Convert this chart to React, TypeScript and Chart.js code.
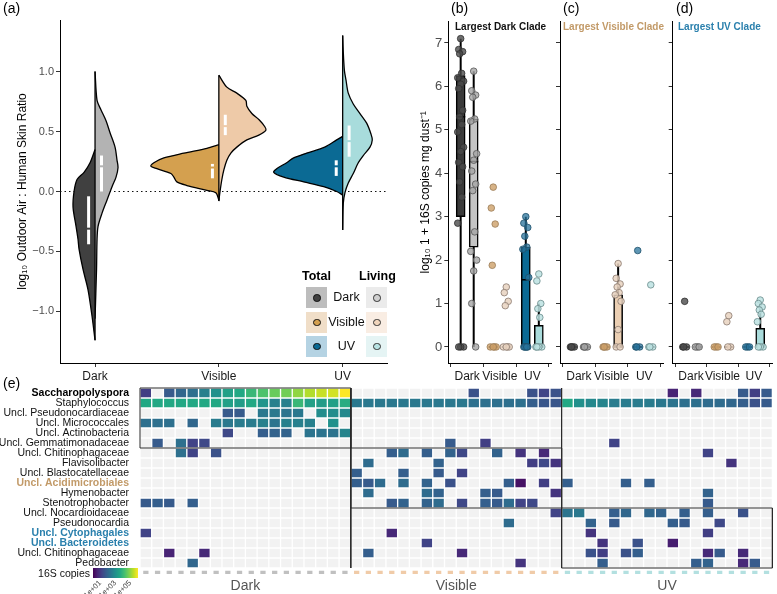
import React, { useEffect, useRef } from "react";
import { Chart, registerables } from "chart.js";
Chart.register(...registerables);

const FONT = "'Liberation Sans', Arial, Helvetica, sans-serif";
Chart.defaults.font.family = FONT;

const _ = null;
const CATEGORIES = ["Dark", "Visible", "UV"];

// ---------- Panel (a): split violins (levels in log10 ratio, widths = read half-widths) ----------
const DARK_TOTAL_LEVELS = [0.35, 0.24, 0.16, 0.10, 0.0, -0.13, -0.29, -0.40, -0.48, -0.65, -0.82, -1.04, -1.24];
const DARK_TOTAL_WIDTHS = [0, 5, 11, 18, 21, 22, 19, 17, 16, 12, 7, 3, 0];
const DARK_LIVING_LEVELS = [1.0, 0.76, 0.68, 0.59, 0.49, 0.37, 0.26, 0.2, 0.12, 0.04, -0.07, -0.18, -0.29, -0.4, -0.65, -1.06];
const DARK_LIVING_WIDTHS = [0, 2, 6, 11, 15, 20, 22, 23, 21, 17, 12, 7, 3, 2, 1.5, 0];
const VISIBLE_TOTAL_LEVELS = [0.39, 0.36, 0.32, 0.28, 0.24, 0.21, 0.19, 0.15, 0.12, 0.08, 0.05, 0.01, -0.01, -0.07];
const VISIBLE_TOTAL_WIDTHS = [0, 12, 35, 55, 65, 68, 62, 48, 45, 42, 32, 12, 3, 0];
const VISIBLE_LIVING_LEVELS = [0.97, 0.87, 0.82, 0.76, 0.71, 0.65, 0.6, 0.54, 0.51, 0.47, 0.43, 0.37, 0.32, 0.26, 0.18, 0.1, -0.01, -0.08];
const VISIBLE_LIVING_WIDTHS = [0, 8, 18, 27, 28, 33, 40, 46, 47, 40, 28, 18, 12, 8, 5, 3, 1, 0];
const UV_TOTAL_LEVELS = [0.46, 0.43, 0.37, 0.32, 0.28, 0.24, 0.19, 0.16, 0.12, 0.08, 0.04, 0.0, -0.03];
const UV_TOTAL_WIDTHS = [0, 6, 18, 36, 49, 56, 66, 69, 59, 39, 19, 6, 0];
const UV_LIVING_LEVELS = [1.3, 1.18, 1.01, 0.93, 0.82, 0.73, 0.65, 0.57, 0.48, 0.43, 0.37, 0.3, 0.24, 0.15, 0.07, -0.01, -0.1, -0.32];
const UV_LIVING_WIDTHS = [0, 0.5, 1.7, 3.3, 5.6, 10.6, 17.3, 24, 28.3, 29.6, 27.3, 20.6, 15.6, 10.6, 5.6, 2.3, 0.6, 0];
// [q1, median, q3]
const IQR_TOTAL = [[-0.44, -0.31, -0.04], [0.11, 0.2, 0.23], [0.13, 0.21, 0.26]];
const IQR_LIVING = [[0.0, 0.21, 0.3], [0.47, 0.545, 0.64], [0.29, 0.42, 0.55]];
const A_Y_TICKS = [-1, -0.5, 0, 0.5, 1];

const TOTAL_COLORS = ["#404040", "#d4a04f", "#0b6a94"];
const LIVING_COLORS = ["#b3b3b3", "#eecaa8", "#a8dcdc"];

// ---------- Panels (b)-(d): log10 1 + 16S copies ----------
const B_DARK_TOTAL = [7.1, 6.85, 6.8, 6.75, 6.3, 6.2, 6.12, 6.05, 5.95, 5.45, 5.3, 5.12, 4.95, 4.6, 4.5, 4.25, 4.15, 3.8, 3.45, 2.85, 0, 0, 0];
const B_DARK_LIVING = [6.35, 5.9, 5.8, 5.75, 5.25, 5.2, 4.45, 4.3, 4.05, 3.75, 3.6, 2.65, 2.2, 2.0, 1.75, 1.0, 0];
const B_VISIBLE_TOTAL = [3.68, 3.2, 2.83, 1.88, 0, 0, 0, 0];
const B_VISIBLE_LIVING = [1.38, 1.25, 1.05, 0.95, 0, 0, 0, 0];
const B_UV_TOTAL = [3.0, 2.85, 2.75, 2.55, 2.3, 2.25, 1.6, 0, 0, 0, 0, 0];
const B_UV_LIVING = [1.68, 1.52, 1.0, 0.88, 0.68, 0, 0, 0, 0];
const C_DARK_TOTAL = [0, 0, 0, 0];
const C_DARK_LIVING = [0, 0, 0, 0];
const C_VISIBLE_TOTAL = [0, 0, 0, 0];
const C_VISIBLE_LIVING = [1.92, 1.58, 1.45, 1.38, 1.25, 1.2, 1.05, 0.4, 0, 0];
const C_UV_TOTAL = [2.22, 0, 0, 0];
const C_UV_LIVING = [1.43, 0, 0, 0];
const D_DARK_TOTAL = [1.05, 0, 0, 0];
const D_DARK_LIVING = [0, 0, 0];
const D_VISIBLE_TOTAL = [0, 0, 0];
const D_VISIBLE_LIVING = [0.72, 0.58, 0, 0];
const D_UV_TOTAL = [0, 0, 0];
const D_UV_LIVING = [1.08, 1.0, 0.92, 0.85, 0.75, 0.58, 0, 0, 0];
// [low whisker, q1, median, q3, high whisker]
const BOX_B = [[0, 3.0, 5.3, 6.25, 7.1], [0, 2.3, 4.27, 5.25, 6.35], [0, 0, 0, 0, 0], [0, 0, 0, 0, 0], [0, 0, 1.55, 2.3, 3.0], [0, 0, 0, 0.5, 1.0]];
const BOX_C = [[0, 0, 0, 0, 0], [0, 0, 0, 0, 0], [0, 0, 0, 0, 0], [0, 0, 0, 1.2, 1.92], [0, 0, 0, 0, 0], [0, 0, 0, 0, 0]];
const BOX_D = [[0, 0, 0, 0, 0], [0, 0, 0, 0, 0], [0, 0, 0, 0, 0], [0, 0, 0, 0, 0], [0, 0, 0, 0, 0], [0, 0, 0, 0.43, 1.0]];
const B_Y_TICKS = [0, 1, 2, 3, 4, 5, 6, 7];

const GROUP_FILL = ["#3a3a3a", "#c4c4c4", "#d4a04f", "#ebcfb3", "#0b6a94", "#aadcdc"];
const POINT_FILL = ["rgba(75,75,75,0.8)", "rgba(165,165,165,0.8)", "rgba(205,160,105,0.8)", "rgba(232,210,192,0.85)", "rgba(40,115,155,0.75)", "rgba(188,226,226,0.85)"];
const POINT_BORDER = ["#2e2e2e", "#555555", "#9b7c58", "#8a7a70", "#1d4f6a", "#6a8a8a"];
const JITTER = [0, -0.06, 0.06, -0.03, 0.03, -0.09, 0.09];

// ---------- Panel (e): heatmap, log10 16S copies (null = absent) ----------
const TAXA = ["Saccharopolyspora", "Staphylococcus", "Uncl. Pseudonocardiaceae", "Uncl. Micrococcales", "Uncl. Actinobacteria", "Uncl. Gemmatimonadaceae", "Uncl. Chitinophagaceae", "Flavisolibacter", "Uncl. Blastocatellaceae", "Uncl. Acidimicrobiales", "Hymenobacter", "Stenotrophobacter", "Uncl. Nocardioidaceae", "Pseudonocardia", "Uncl. Cytophagales", "Uncl. Bacteroidetes", "Uncl. Chitinophagaceae", "Pedobacter"];
const TAXA_GROUP = [0, 0, 0, 0, 0, 0, 1, 1, 1, 1, 1, 1, 2, 2, 2, 2, 2, 2];
const TAXA_BOLD = [0, 9, 14, 15];
const E = [_, _, _, _, _, _, _, _, _, _, _, _, _, _, _, _, _, _];
const HEAT_DARK = [
  [1.1, _, 1.7, 2.0, 2.2, 2.6, 3.0, 3.4, 3.6, 4.0, 4.3, 4.6, 4.7, 5.0, 5.3, 5.5, 5.6, 6.0],
  [3.6, 3.6, 3.6, 3.6, 3.6, 3.6, 3.6, 3.4, 3.3, 3.6, 3.1, 2.6, 2.6, 4.0, 3.4, 3.3, 3.4, 3.7],
  [_, _, _, _, _, _, _, 1.7, 1.7, _, 2.4, 2.4, 2.3, 2.4, _, 2.9, 2.9, 2.8],
  [2.2, 2.2, 2.2, _, 2.0, _, 2.5, 2.4, 2.5, 2.5, 2.6, 2.3, 2.6, 2.6, 2.6, _, 3.0, _],
  [_, _, _, _, _, _, _, 1.3, _, _, 1.8, 1.9, 1.9, _, 2.3, 2.3, 2.3, 2.7],
  [_, 1.7, _, 2.2, 1.2, 1.3, _, _, _, _, _, _, _, _, _, _, _, _],
  [_, _, _, 2.2, 1.2, _, 1.5, _, _, _, _, _, _, _, _, _, _, _],
  E, E, E, E,
  [1.7, 1.8, 1.7, _, 1.8, _, _, _, _, _, _, _, _, _, _, _, _, _],
  E, E,
  [1.2, _, _, _, _, _, _, _, _, _, _, _, _, _, _, _, _, _],
  E,
  [_, _, 0.6, _, _, 0.7, _, _, _, _, _, _, _, _, _, _, _, _],
  [_, _, _, _, 2.0, _, _, _, _, _, _, _, _, _, _, _, _, _],
];
const HEAT_VISIBLE = [
  [_, _, _, _, _, _, _, _, _, _, 1.5, _, _, _, _, 1.5, 1.2, 1.5],
  [2.4, 2.4, 2.4, 2.4, 2.4, 2.4, 2.4, 2.4, 2.4, 2.4, 2.2, 2.2, 2.2, 2.2, 2.2, 1.8, 1.6, 1.6],
  E, E, E,
  [_, _, _, _, _, _, _, _, 1.7, _, _, 1.1, _, _, _, _, _, _],
  [_, _, _, 1.8, 2.1, _, 1.8, _, 1.9, 1.3, _, _, 1.9, _, 0.9, _, 0.7, _],
  [_, 2.1, _, _, _, _, _, 1.9, _, _, _, _, _, _, _, 1.1, 1.3, 0.9],
  [1.8, _, _, _, 1.8, _, _, 1.7, _, 1.2, _, _, _, _, _, _, _, _],
  [1.8, 1.7, 2.1, _, 2.1, _, 1.9, _, 1.5, _, _, _, _, 1.8, 0.3, _, 1.1, _],
  [_, 2.1, _, _, _, _, 2.1, 1.9, _, _, _, 1.8, 1.7, _, _, _, _, 0.9],
  [_, _, _, 1.7, 1.9, _, 1.9, 2.1, _, 1.3, _, 1.8, 1.7, 2.1, 1.2, 1.3, _, _],
  [_, _, _, _, _, _, _, _, _, _, _, _, _, _, _, _, _, 1.2],
  [_, _, _, _, _, _, _, _, _, _, _, _, _, 2.1, _, _, _, _],
  [_, _, _, 0.7, _, _, _, _, _, _, _, _, _, _, _, _, _, _],
  [_, _, _, _, _, _, 1.2, _, _, _, _, _, _, _, _, _, _, _],
  [_, 1.8, _, _, _, _, _, _, _, 0.7, _, _, _, _, _, _, _, _],
  [_, _, _, _, _, _, _, _, _, _, _, _, _, _, 0.9, _, _, _],
];
const HEAT_UV = [
  [_, _, _, _, _, _, _, _, _, 0.6, _, 0.7, _, _, _, 1.7, 1.1, 1.7],
  [3.6, 3.0, 2.8, 2.7, 2.5, 2.5, 2.5, 2.5, 2.4, 2.3, 2.2, 2.2, 2.1, 2.1, 2.0, 1.8, 1.5, 1.7],
  E, E, E,
  [_, _, _, _, 1.2, _, _, _, _, _, _, _, _, _, _, _, _, _],
  [_, _, _, _, _, _, _, _, _, _, _, _, 1.2, _, _, _, _, _],
  [_, _, _, _, _, _, _, _, _, _, _, _, _, _, 0.9, _, _, _],
  E,
  [1.8, _, _, _, _, 1.8, _, 1.8, _, _, _, _, _, _, _, _, _, _],
  [_, _, _, _, _, _, _, _, _, _, _, _, 1.9, _, _, _, _, _],
  [_, _, _, _, _, _, _, _, _, _, _, _, 1.7, _, _, _, _, _],
  [2.3, 2.4, _, _, 1.8, 2.0, _, 2.0, 1.9, _, 1.8, _, 1.8, _, _, 1.5, _, _],
  [_, _, 1.9, _, 1.7, _, _, _, _, 1.8, 1.7, _, _, 1.3, _, _, _, _],
  [_, _, 0.9, _, _, _, _, _, _, _, _, _, 1.1, _, _, _, _, _],
  [_, _, _, 0.9, _, _, 1.5, _, _, 0.5, _, _, _, _, _, _, _, _],
  [_, _, 1.5, 1.1, _, 1.5, 1.8, _, _, _, _, _, 0.7, 1.7, _, 0.7, _, _],
  [_, _, _, 1.8, _, _, _, _, _, _, _, 1.8, 1.9, _, _, 0.7, 1.7, _],
];
const HEAT_MAX_LOG = 6;
const COLORBAR_LABELS = ["1e+01", "1e+03", "1e+05"];

// ---------- styling constants ----------
const VX_MIN = 0.717, VX_MAX = 3.358;
const VIOLIN_PX_PER_UNIT = 123.85;
const IQR_OFFSET = 0.052;
const BX_MIN = 0.42, BX_MAX = 3.58;
const DODGE = 0.2;
const BOX_HALF = 0.14;
const VIRIDIS = ["#440154", "#482475", "#414487", "#355f8d", "#2a788e", "#21918c", "#22a884", "#44bf70", "#7ad151", "#bddf26", "#fde725"];
const EMPTY_CELL = "#f2f2f2";
const GROUP_DOT = ["#b5b5b5", "#ebc6a2", "#a3dcdc"];
const STRIP = ["#c0c0c0", "#f0cba8", "#b3e0e0"];
const HIGHLIGHT_TEXT = ["#000000", "#c29a68", "#2b80ad"];

function hexRgb(h: string) {
  return [parseInt(h.slice(1, 3), 16), parseInt(h.slice(3, 5), 16), parseInt(h.slice(5, 7), 16)];
}
function viridis(t: number) {
  const tt = Math.max(0, Math.min(1, t));
  const p = tt * 10;
  const i = Math.min(9, Math.floor(p));
  const f = p - i;
  const a = hexRgb(VIRIDIS[i]);
  const b = hexRgb(VIRIDIS[i + 1]);
  const c = a.map((v, k) => Math.round(v + (b[k] - v) * f));
  return `rgb(${c[0]},${c[1]},${c[2]})`;
}

const BASE: any = {
  animation: false,
  responsive: false,
  events: [],
  plugins: { legend: { display: false }, tooltip: { enabled: false } },
};

function axisCommon(extra: any) {
  return {
    type: "linear",
    grid: { display: true, drawOnChartArea: false, drawTicks: true, tickLength: 4, color: "#333" },
    border: { display: true, color: "#000", width: 1 },
    ...extra,
  };
}

function violinConfig() {
  const ds: any[] = [];
  ds.push({
    type: "line", data: [{ x: VX_MIN, y: 0 }, { x: VX_MAX, y: 0 }],
    borderColor: "#111", borderWidth: 1.2, borderDash: [1.5, 3], pointRadius: 0, order: 30,
  });
  const halves = [
    { cat: 1, side: -1, lv: DARK_TOTAL_LEVELS, w: DARK_TOTAL_WIDTHS, col: TOTAL_COLORS[0] },
    { cat: 1, side: 1, lv: DARK_LIVING_LEVELS, w: DARK_LIVING_WIDTHS, col: LIVING_COLORS[0] },
    { cat: 2, side: -1, lv: VISIBLE_TOTAL_LEVELS, w: VISIBLE_TOTAL_WIDTHS, col: TOTAL_COLORS[1] },
    { cat: 2, side: 1, lv: VISIBLE_LIVING_LEVELS, w: VISIBLE_LIVING_WIDTHS, col: LIVING_COLORS[1] },
    { cat: 3, side: -1, lv: UV_TOTAL_LEVELS, w: UV_TOTAL_WIDTHS, col: TOTAL_COLORS[2] },
    { cat: 3, side: 1, lv: UV_LIVING_LEVELS, w: UV_LIVING_WIDTHS, col: LIVING_COLORS[2] },
  ];
  halves.forEach((h) => {
    ds.push({
      type: "line",
      data: h.lv.map((y, i) => ({ x: h.cat + (h.side * h.w[i]) / VIOLIN_PX_PER_UNIT, y })),
      fill: "shape", backgroundColor: h.col, borderColor: "#000", borderWidth: 1.3,
      pointRadius: 0, tension: 0.3, order: 10,
    });
  });
  [0, 1, 2].forEach((i) => {
    const all = [...halves[2 * i].lv, ...halves[2 * i + 1].lv];
    ds.push({
      type: "line",
      data: [{ x: i + 1, y: Math.min(...all) }, { x: i + 1, y: Math.max(...all) }],
      borderColor: "#000", borderWidth: 1.3, pointRadius: 0, order: 9,
    });
    const sets = [
      { q: IQR_TOTAL[i], x: i + 1 - IQR_OFFSET, col: TOTAL_COLORS[i] },
      { q: IQR_LIVING[i], x: i + 1 + IQR_OFFSET, col: LIVING_COLORS[i] },
    ];
    sets.forEach((s) => {
      ds.push({
        type: "line", data: [{ x: s.x, y: s.q[0] }, { x: s.x, y: s.q[2] }],
        borderColor: "#ffffff", borderWidth: 3, pointRadius: 0, order: 5,
      });
      ds.push({
        type: "scatter", data: [{ x: s.x, y: s.q[1] }],
        pointStyle: "line", pointRadius: 2.6, borderColor: s.col, borderWidth: 2, order: 4,
      });
    });
  });
  return {
    type: "scatter",
    data: { datasets: ds },
    options: {
      ...BASE,
      layout: { padding: { left: 11, top: 20, right: 8, bottom: 5 } },
      scales: {
        x: axisCommon({
          min: VX_MIN, max: VX_MAX,
          afterBuildTicks: (s: any) => { s.ticks = [1, 2, 3].map((v) => ({ value: v })); },
          afterFit: (s: any) => { s.height = 22; },
          ticks: { callback: (v: any) => CATEGORIES[Math.round(v) - 1], color: "#1a1a1a", font: { size: 12 }, padding: 2, autoSkip: false, maxRotation: 0 },
        }),
        y: axisCommon({
          min: -1.43, max: 1.43,
          afterBuildTicks: (s: any) => { s.ticks = A_Y_TICKS.map((v) => ({ value: v })); },
          afterFit: (s: any) => { s.width = 49; },
          ticks: { callback: (v: any) => Number(v).toFixed(1).replace("-", "\u2212"), color: "#4d4d4d", font: { size: 11 }, padding: 2 },
          title: { display: true, text: "log\u2081\u2080 Outdoor Air : Human Skin Ratio", color: "#000", font: { size: 12 } },
        }),
      },
    },
  };
}

function boxConfig(points: number[][], boxes: number[][], showY: boolean, padding: any, yWidth: number) {
  const ds: any[] = [];
  const pos = [1 - DODGE, 1 + DODGE, 2 - DODGE, 2 + DODGE, 3 - DODGE, 3 + DODGE];
  boxes.forEach((b, g) => {
    if (b[4] > b[0]) {
      ds.push({
        type: "line", data: [{ x: pos[g], y: b[0] }, { x: pos[g], y: b[4] }],
        borderColor: "#000", borderWidth: 2, pointRadius: 0, order: 4,
      });
    }
  });
  const boxData: any[] = [];
  const boxCols: string[] = [];
  boxes.forEach((b, g) => {
    if (b[3] > b[1]) {
      boxData.push({ x: pos[g], y: [b[1], b[3]] });
      boxCols.push(GROUP_FILL[g]);
    }
  });
  ds.push({
    type: "bar", data: boxData, backgroundColor: boxCols, borderColor: "#000", borderWidth: 1.5,
    borderSkipped: false, barThickness: 9, grouped: false, order: 3,
  });
  boxes.forEach((b, g) => {
    ds.push({
      type: "line", data: [{ x: pos[g] - BOX_HALF, y: b[2] }, { x: pos[g] + BOX_HALF, y: b[2] }],
      borderColor: "#000", borderWidth: 1.5, pointRadius: 0, order: 2,
    });
  });
  points.forEach((arr, g) => {
    ds.push({
      type: "scatter",
      data: arr.map((v, i) => ({ x: pos[g] + JITTER[i % JITTER.length], y: v })),
      pointRadius: 3.3, backgroundColor: POINT_FILL[g], borderColor: POINT_BORDER[g], borderWidth: 0.8, order: 1,
    });
  });
  return {
    type: "scatter",
    data: { datasets: ds },
    options: {
      ...BASE,
      layout: { padding },
      scales: {
        x: axisCommon({
          min: BX_MIN, max: BX_MAX, offset: false,
          afterBuildTicks: (s: any) => { s.ticks = [1, 2, 3].map((v) => ({ value: v })); },
          afterFit: (s: any) => { s.height = 22; },
          ticks: { callback: (v: any) => CATEGORIES[Math.round(v) - 1], color: "#1a1a1a", font: { size: 12 }, padding: 2, autoSkip: false, maxRotation: 0, minRotation: 0 },
        }),
        y: axisCommon({
          min: -0.37, max: 7.49,
          afterBuildTicks: (s: any) => { s.ticks = B_Y_TICKS.map((v) => ({ value: v })); },
          afterFit: (s: any) => { s.width = yWidth; },
          ticks: { display: showY, color: "#4d4d4d", font: { size: 13 }, padding: 2 },
          title: { display: showY, text: "log\u2081\u2080 1 + 16S copies mg dust\u207B\u00B9", color: "#000", font: { size: 12 } },
        }),
      },
    },
  };
}

function heatConfig() {
  const blocks = [HEAT_DARK, HEAT_VISIBLE, HEAT_UV];
  const n = HEAT_DARK[0].length;
  const ds: any[] = [];
  TAXA.forEach((_t, r) => {
    const data: any[] = [];
    const cols: string[] = [];
    blocks.forEach((blk, b) => {
      blk[r].forEach((v: any, c: number) => {
        data.push({ x: b * n + c + 0.5, y: [r, r + 1] });
        cols.push(v === null ? EMPTY_CELL : viridis(v / HEAT_MAX_LOG));
      });
    });
    ds.push({
      type: "bar", data, backgroundColor: cols, borderColor: "#ffffff", borderWidth: 1,
      borderSkipped: false, grouped: false, barPercentage: 1, categoryPercentage: 1, order: 5,
    });
  });
  const stripData: any[] = [];
  const stripCols: string[] = [];
  blocks.forEach((blk, b) => {
    blk[0].forEach((_v: any, c: number) => {
      stripData.push({ x: b * n + c + 0.5, y: [TAXA.length + 0.27, TAXA.length + 0.6] });
      stripCols.push(STRIP[b]);
    });
  });
  ds.push({
    type: "bar", data: stripData, backgroundColor: stripCols, borderWidth: 0,
    grouped: false, barPercentage: 0.45, categoryPercentage: 1, order: 5,
  });
  const groupRows = [0, 6, 12, 18];
  [0, 1, 2].forEach((b) => {
    const x0 = b * n, x1 = (b + 1) * n, y0 = groupRows[b], y1 = groupRows[b + 1];
    ds.push({
      type: "line",
      data: [{ x: x0, y: y0 }, { x: x1, y: y0 }, { x: x1, y: y1 }, { x: x0, y: y1 }, { x: x0, y: y0 }],
      borderColor: "#2a2a2a", borderWidth: 1, pointRadius: 0, fill: false, clip: false, order: 1,
    });
  });
  [1, 2].forEach((b) => {
    ds.push({
      type: "line", data: [{ x: b * n, y: 0 }, { x: b * n, y: TAXA.length }],
      borderColor: "#2a2a2a", borderWidth: 1, pointRadius: 0, clip: false, order: 1,
    });
  });
  ds.push({
    type: "scatter",
    data: TAXA.map((_t, r) => ({ x: -0.57, y: r + 0.5 })),
    pointRadius: 4.6, backgroundColor: TAXA_GROUP.map((g) => GROUP_DOT[g]), borderWidth: 0, clip: false, order: 0,
  });
  return {
    type: "bar",
    data: { datasets: ds },
    options: {
      ...BASE,
      layout: { padding: { left: 0, top: 8, right: 1, bottom: 0 } },
      scales: {
        x: {
          type: "linear", min: 0, max: 3 * n, offset: false,
          grid: { display: false, drawTicks: false }, border: { display: false },
          afterBuildTicks: (s: any) => { s.ticks = [0, 1, 2].map((b) => ({ value: b * n + n / 2 })); },
          afterFit: (s: any) => { s.height = 19; s.paddingLeft = 0; s.paddingRight = 0; },
          ticks: { callback: (_v: any, i: number) => CATEGORIES[i], color: "#555", font: { size: 14 }, padding: 3, autoSkip: false, maxRotation: 0 },
        },
        y: {
          type: "linear", min: 0, max: TAXA.length + 0.7, reverse: true, offset: false,
          grid: { display: false, drawTicks: false }, border: { display: false },
          afterBuildTicks: (s: any) => { s.ticks = TAXA.map((_t, r) => ({ value: r + 0.5 })); },
          afterFit: (s: any) => { s.width = 140; s.paddingTop = 0; s.paddingBottom = 0; },
          ticks: {
            autoSkip: false, padding: 11,
            callback: (_v: any, i: number) => TAXA[i],
            font: (ctx: any) => ({ size: 10.5, weight: TAXA_BOLD.includes(ctx.index) ? "bold" : "normal" }),
            color: (ctx: any) => (TAXA_BOLD.includes(ctx.index) ? HIGHLIGHT_TEXT[TAXA_GROUP[ctx.index]] : "#111"),
          },
        },
      },
    },
  };
}

function ChartCanvas({ make, left, top, width, height }: any) {
  const ref = useRef<HTMLCanvasElement | null>(null);
  useEffect(() => {
    if (!ref.current) return;
    const chart = new Chart(ref.current, make());
    return () => chart.destroy();
  }, []);
  return (
    <canvas ref={ref} width={width} height={height}
      style={{ position: "absolute", left, top, width, height }} />
  );
}

const txt = (s: any) => ({ position: "absolute" as const, fontFamily: FONT, whiteSpace: "nowrap" as const, lineHeight: 1, ...s });

function Legend() {
  const rowsTop = [287, 311.5, 335.5];
  const totalBox = ["#bdbdbd", "#f0dec8", "#b5d3e3"];
  const livingBox = ["#ebebeb", "#f9ede3", "#e5f4f4"];
  const livingDot = ["#cfcfcf", "#f1d5bc", "#b8e3e3"];
  return (
    <>
      <div style={txt({ left: 302, top: 270, fontSize: 12.5, fontWeight: "bold" })}>Total</div>
      <div style={txt({ left: 359, top: 270, fontSize: 12.5, fontWeight: "bold" })}>Living</div>
      {CATEGORIES.map((c, i) => (
        <React.Fragment key={c}>
          <div style={{ position: "absolute", left: 306, top: rowsTop[i], width: 21, height: 21, background: totalBox[i] }} />
          <div style={{ position: "absolute", left: 313, top: rowsTop[i] + 7, width: 5.5, height: 5.5, borderRadius: "50%", background: TOTAL_COLORS[i], border: "1.2px solid #111" }} />
          <div style={{ position: "absolute", left: 366, top: rowsTop[i], width: 21, height: 21, background: livingBox[i] }} />
          <div style={{ position: "absolute", left: 373, top: rowsTop[i] + 7, width: 5.5, height: 5.5, borderRadius: "50%", background: livingDot[i], border: "1.2px solid #333" }} />
          <div style={txt({ left: 327, width: 39, textAlign: "center", top: rowsTop[i] + 4, fontSize: 12.5, color: "#111" })}>{c}</div>
        </React.Fragment>
      ))}
    </>
  );
}

function ColorBar() {
  const grad = `linear-gradient(to right, ${VIRIDIS.join(", ")})`;
  const tickX = [100, 115, 130];
  return (
    <>
      <div style={txt({ left: 0, width: 90, textAlign: "right", top: 568, fontSize: 10.5, color: "#111" })}>16S copies</div>
      <div style={{ position: "absolute", left: 93, top: 568, width: 45, height: 10, background: grad }} />
      {COLORBAR_LABELS.map((l, i) => (
        <div key={l} style={{ position: "absolute", left: tickX[i], top: 582, width: 0, height: 0 }}>
          <span style={txt({ right: 0, top: -4, fontSize: 7.5, color: "#444", transformOrigin: "right center", transform: "rotate(-45deg)" })}>{l}</span>
        </div>
      ))}
    </>
  );
}

export default function App() {
  const bPoints = [B_DARK_TOTAL, B_DARK_LIVING, B_VISIBLE_TOTAL, B_VISIBLE_LIVING, B_UV_TOTAL, B_UV_LIVING];
  const cPoints = [C_DARK_TOTAL, C_DARK_LIVING, C_VISIBLE_TOTAL, C_VISIBLE_LIVING, C_UV_TOTAL, C_UV_LIVING];
  const dPoints = [D_DARK_TOTAL, D_DARK_LIVING, D_VISIBLE_TOTAL, D_VISIBLE_LIVING, D_UV_TOTAL, D_UV_LIVING];
  return (
    <div style={{ position: "absolute", left: 0, top: 0, width: 777, height: 594, background: "#fff", overflow: "hidden" }}>
      <ChartCanvas make={violinConfig} left={0} top={0} width={395} height={390} />
      <ChartCanvas make={() => boxConfig(bPoints, BOX_B, true, { left: 14, right: 4.3, top: 21.7, bottom: 5 }, 34.3)} left={400} top={0} width={156} height={390} />
      <ChartCanvas make={() => boxConfig(cPoints, BOX_C, false, { left: 4, right: 4, top: 21.7, bottom: 5 }, 4)} left={552} top={0} width={116} height={390} />
      <ChartCanvas make={() => boxConfig(dPoints, BOX_D, false, { left: 4.7, right: 0.3, top: 21.7, bottom: 5 }, 4)} left={664} top={0} width={113} height={390} />
      <ChartCanvas make={heatConfig} left={0} top={380} width={777} height={214} />
      <Legend />
      <ColorBar />
      <div style={txt({ left: 3, top: 1, fontSize: 14 })}>(a)</div>
      <div style={txt({ left: 451, top: 1, fontSize: 14 })}>(b)</div>
      <div style={txt({ left: 563, top: 1, fontSize: 14 })}>(c)</div>
      <div style={txt({ left: 676, top: 1, fontSize: 14 })}>(d)</div>
      <div style={txt({ left: 3, top: 376, fontSize: 14 })}>(e)</div>
      <div style={txt({ left: 455, top: 22, fontSize: 10, fontWeight: "bold", color: "#111" })}>Largest Dark Clade</div>
      <div style={txt({ left: 563, top: 22, fontSize: 10, fontWeight: "bold", color: "#c29a68" })}>Largest Visible Clade</div>
      <div style={txt({ left: 678, top: 22, fontSize: 10, fontWeight: "bold", color: "#2b80ad" })}>Largest UV Clade</div>
    </div>
  );
}
